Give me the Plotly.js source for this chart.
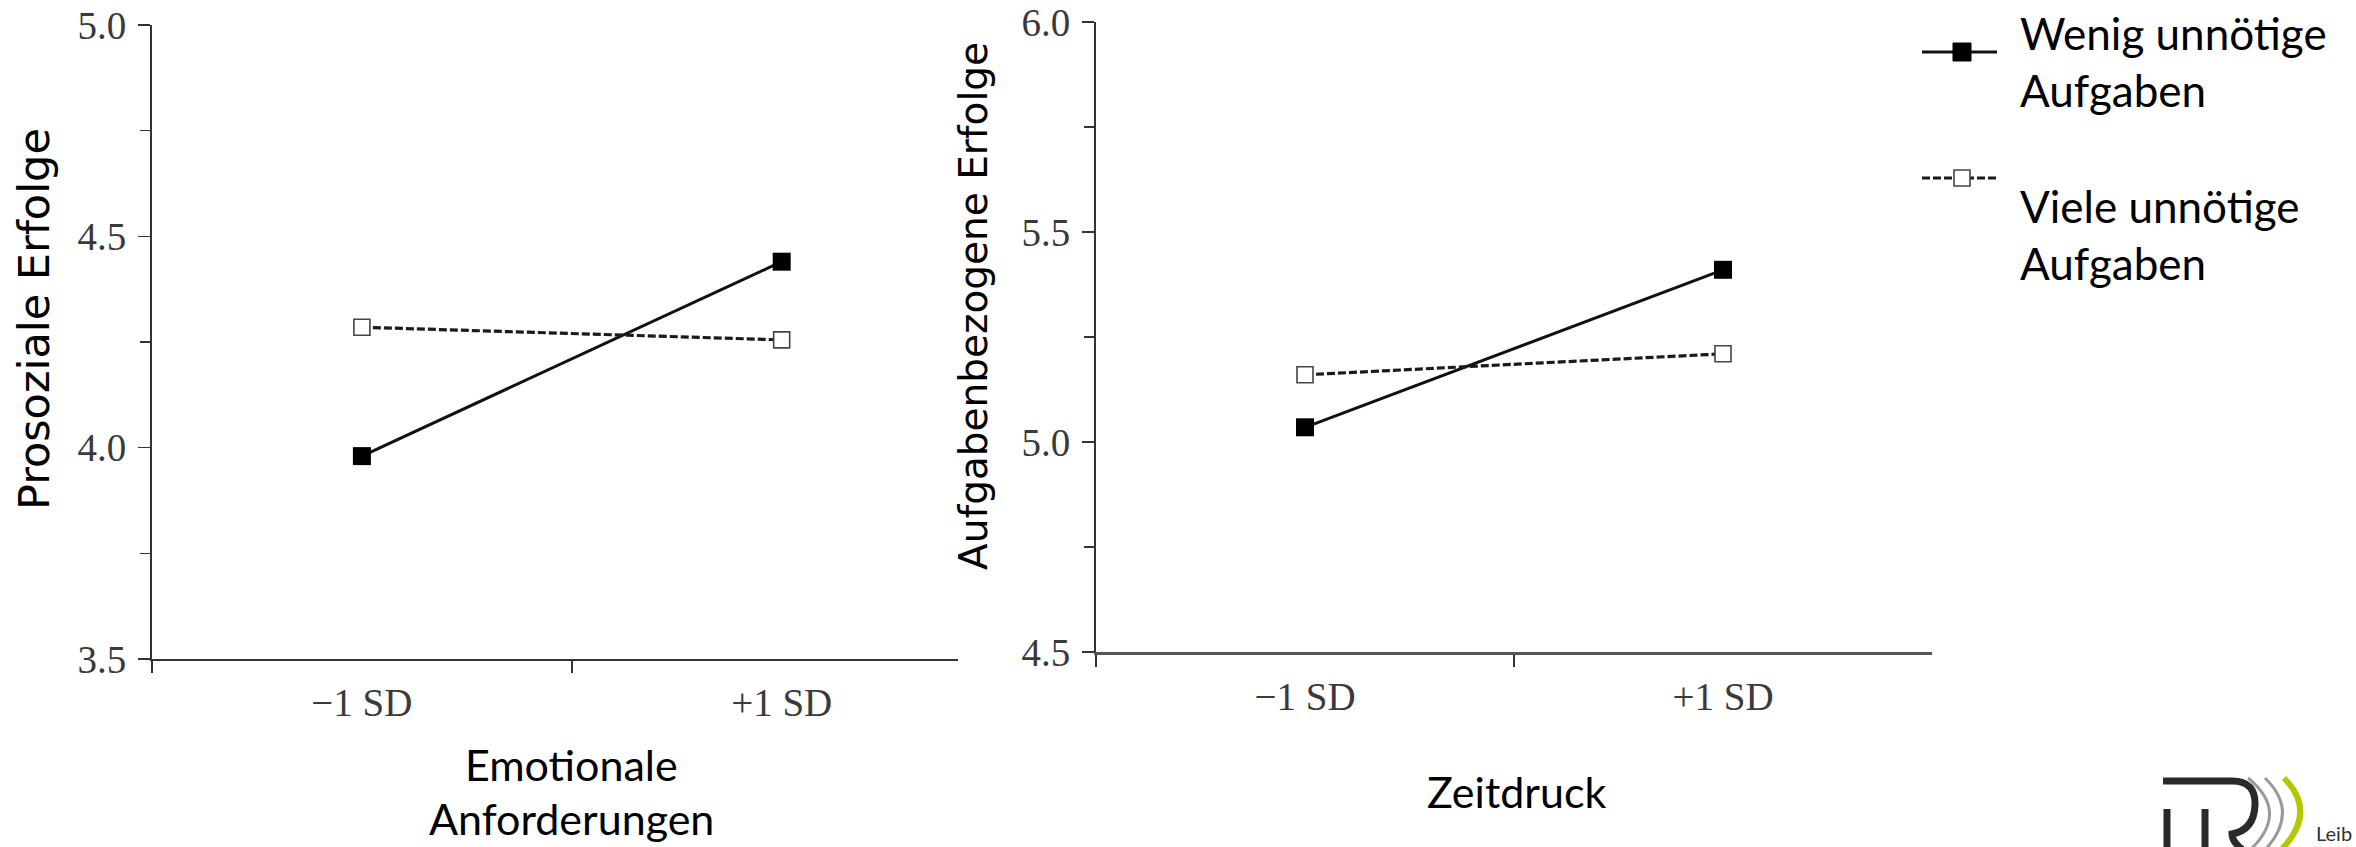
<!DOCTYPE html>
<html>
<head>
<meta charset="utf-8">
<script src="https://cdn.plot.ly/plotly-3.0.1.min.js"></script>
<style>
  html, body { margin: 0; padding: 0; background: #ffffff; }
  #chart { width: 2356px; height: 847px; }
</style>
</head>
<body>
<div id="chart"></div>
<script>
// Categories on both x axes
const categories = ['\u22121 SD', '+1 SD'];

// Panel 1: Emotionale Anforderungen -> Prosoziale Erfolge
const prosozialWenig = [3.98, 4.44];
const prosozialViele = [4.285, 4.255];

// Panel 2: Zeitdruck -> Aufgabenbezogene Erfolge
const aufgabenWenig = [5.035, 5.41];
const aufgabenViele = [5.16, 5.21];

// Group names
const groupNames = ['Wenig unn\u00f6tige<br>Aufgaben', 'Viele unn\u00f6tige<br>Aufgaben'];

const W = 2356, H = 847;
const fx = x => x / W;          // pixel -> paper (x)
const fy = y => 1 - y / H;      // pixel -> paper (y)

const serif = 'Liberation Serif, Times New Roman, serif';
const sans = 'Lato, Open Sans, sans-serif';
const titleSans = 'DejaVu Sans, Verdana, sans-serif';

function solidTrace(y, xa, ya) {
  return {
    x: categories, y: y, xaxis: xa, yaxis: ya, type: 'scatter', mode: 'lines+markers',
    line: { color: '#111111', width: 3 },
    marker: { symbol: 'square', size: 18, color: '#000000' },
    cliponaxis: false, showlegend: false, hoverinfo: 'x+y'
  };
}
function dashedTrace(y, xa, ya) {
  return {
    x: categories, y: y, xaxis: xa, yaxis: ya, type: 'scatter', mode: 'lines+markers',
    line: { color: '#1a1a1a', width: 3.2, dash: '8px,3px' },
    marker: { symbol: 'square', size: 16, color: '#ffffff', line: { color: '#444444', width: 1.6 } },
    cliponaxis: false, showlegend: false, hoverinfo: 'x+y'
  };
}

const traces = [
  solidTrace(prosozialWenig, 'x', 'y'),
  dashedTrace(prosozialViele, 'x', 'y'),
  solidTrace(aufgabenWenig, 'x2', 'y2'),
  dashedTrace(aufgabenViele, 'x2', 'y2')
];

function xAxis(domain, range, anchor, lineColor, lineWidth) {
  return {
    domain: domain, anchor: anchor, type: 'category', range: range,
    tickson: 'boundaries', ticks: 'outside', ticklen: 12, tickwidth: 1.6, tickcolor: '#333',
    showline: true, linecolor: lineColor, linewidth: lineWidth,
    showgrid: false, zeroline: false,
    tickfont: { family: serif, size: 39, color: '#3a3a3a' },
    ticklabelstandoff: 8, fixedrange: true
  };
}
function yAxis(domain, range, anchor) {
  return {
    domain: domain, anchor: anchor, range: range, dtick: 0.5, tick0: range[0],
    tickformat: '.1f', ticks: 'outside', ticklen: 12, tickwidth: 1.6, tickcolor: '#333',
    minor: { dtick: 0.25, ticks: 'outside', ticklen: 10, tickwidth: 1.4, tickcolor: '#333' },
    showline: true, linecolor: '#333', linewidth: 2,
    showgrid: false, zeroline: false,
    tickfont: { family: serif, size: 39, color: '#3a3a3a' },
    ticklabelstandoff: 4, fixedrange: true
  };
}

// Legend drawn by hand at the upper right
const legendShapes = [
  { type: 'line', xref: 'paper', yref: 'paper', x0: fx(1922), x1: fx(1997), y0: fy(52), y1: fy(52),
    line: { color: '#111', width: 2.8 } },
  { type: 'rect', xref: 'paper', yref: 'paper', x0: fx(1953), x1: fx(1971), y0: fy(43), y1: fy(61),
    fillcolor: '#000', line: { color: '#000', width: 1 } },
  { type: 'line', xref: 'paper', yref: 'paper', x0: fx(1922), x1: fx(1997), y0: fy(178), y1: fy(178),
    line: { color: '#1a1a1a', width: 2.8, dash: '8px,3px' } },
  { type: 'rect', xref: 'paper', yref: 'paper', x0: fx(1954), x1: fx(1970), y0: fy(170), y1: fy(186),
    fillcolor: '#fff', line: { color: '#444', width: 1.6 } }
];

// Logo mark at the lower right corner
function pathPx(cmds) {
  return cmds.map(c => c[0] + ' ' + c.slice(1).map((v, i) => (i % 2 === 0 ? fx(v) : fy(v)).toFixed(5)).join(' ')).join(' ');
}
const logoShapes = [
  { type: 'path', xref: 'paper', yref: 'paper', line: { color: '#2a2a2a', width: 7 },
    path: pathPx([['M', 2167, 850], ['L', 2167, 809]]) },
  { type: 'path', xref: 'paper', yref: 'paper', line: { color: '#2a2a2a', width: 7 },
    path: pathPx([['M', 2205, 850], ['L', 2205, 809]]) },
  { type: 'path', xref: 'paper', yref: 'paper', line: { color: '#2a2a2a', width: 7 },
    path: pathPx([['M', 2163, 781], ['L', 2232, 781], ['Q', 2256, 781, 2255, 805], ['Q', 2254, 830, 2232, 834], ['Q', 2232, 842, 2243, 850]]) },
  { type: 'path', xref: 'paper', yref: 'paper', line: { color: '#9a9a9a', width: 3 },
    path: pathPx([['M', 2248, 778], ['Q', 2290, 812, 2250, 850]]) },
  { type: 'path', xref: 'paper', yref: 'paper', line: { color: '#9a9a9a', width: 3 },
    path: pathPx([['M', 2265, 778], ['Q', 2300, 812, 2265, 850]]) },
  { type: 'path', xref: 'paper', yref: 'paper', line: { color: '#b4c800', width: 6 },
    path: pathPx([['M', 2284, 778], ['Q', 2318, 812, 2281, 850]]) }
];

const annotations = [
  // y titles
  { text: 'Prosoziale Erfolge', xref: 'paper', yref: 'paper', x: fx(34), y: fy(319), textangle: -90,
    showarrow: false, xanchor: 'center', yanchor: 'middle', font: { family: titleSans, size: 43, color: '#000' } },
  { text: 'Aufgabenbezogene Erfolge', xref: 'paper', yref: 'paper', x: fx(974), y: fy(306), textangle: -90,
    showarrow: false, xanchor: 'center', yanchor: 'middle', font: { family: titleSans, size: 39, color: '#000' } },
  // x titles
  { text: 'Emotionale', xref: 'paper', yref: 'paper', x: fx(571), y: fy(764),
    showarrow: false, xanchor: 'center', yanchor: 'middle', font: { family: sans, size: 43, color: '#000' } },
  { text: 'Anforderungen', xref: 'paper', yref: 'paper', x: fx(571), y: fy(818),
    showarrow: false, xanchor: 'center', yanchor: 'middle', font: { family: sans, size: 43, color: '#000' } },
  { text: 'Zeitdruck', xref: 'paper', yref: 'paper', x: fx(1517), y: fy(791),
    showarrow: false, xanchor: 'center', yanchor: 'middle', font: { family: sans, size: 43, color: '#000' } },
  // legend labels
  { text: groupNames[0], xref: 'paper', yref: 'paper', x: fx(2018), y: fy(61),
    showarrow: false, xanchor: 'left', yanchor: 'middle', align: 'left',
    font: { family: sans, size: 44, color: '#000' } },
  { text: groupNames[1], xref: 'paper', yref: 'paper', x: fx(2018), y: fy(234),
    showarrow: false, xanchor: 'left', yanchor: 'middle', align: 'left',
    font: { family: sans, size: 44, color: '#000' } },
  // logo wordmark
  { text: 'Leib', xref: 'paper', yref: 'paper', x: fx(2314), y: fy(847),
    showarrow: false, xanchor: 'left', yanchor: 'bottom', font: { family: sans, size: 20, color: '#333' } }
];

const layout = {
  width: W, height: H,
  margin: { l: 0, r: 0, t: 0, b: 0, pad: 0 },
  paper_bgcolor: '#ffffff', plot_bgcolor: '#ffffff',
  showlegend: false,
  xaxis: xAxis([fx(152), fx(958)], [-0.5, 1.42], 'y', '#333', 2),
  yaxis: yAxis([fy(659), fy(25)], [3.5, 5.0], 'x'),
  xaxis2: xAxis([fx(1096), fx(1932)], [-0.5, 1.5], 'y2', '#555', 3),
  yaxis2: yAxis([fy(652), fy(22)], [4.5, 6.0], 'x2'),
  shapes: legendShapes.concat(logoShapes),
  annotations: annotations
};

Plotly.newPlot('chart', traces, layout, { displayModeBar: false, staticPlot: true });
</script>
</body>
</html>
